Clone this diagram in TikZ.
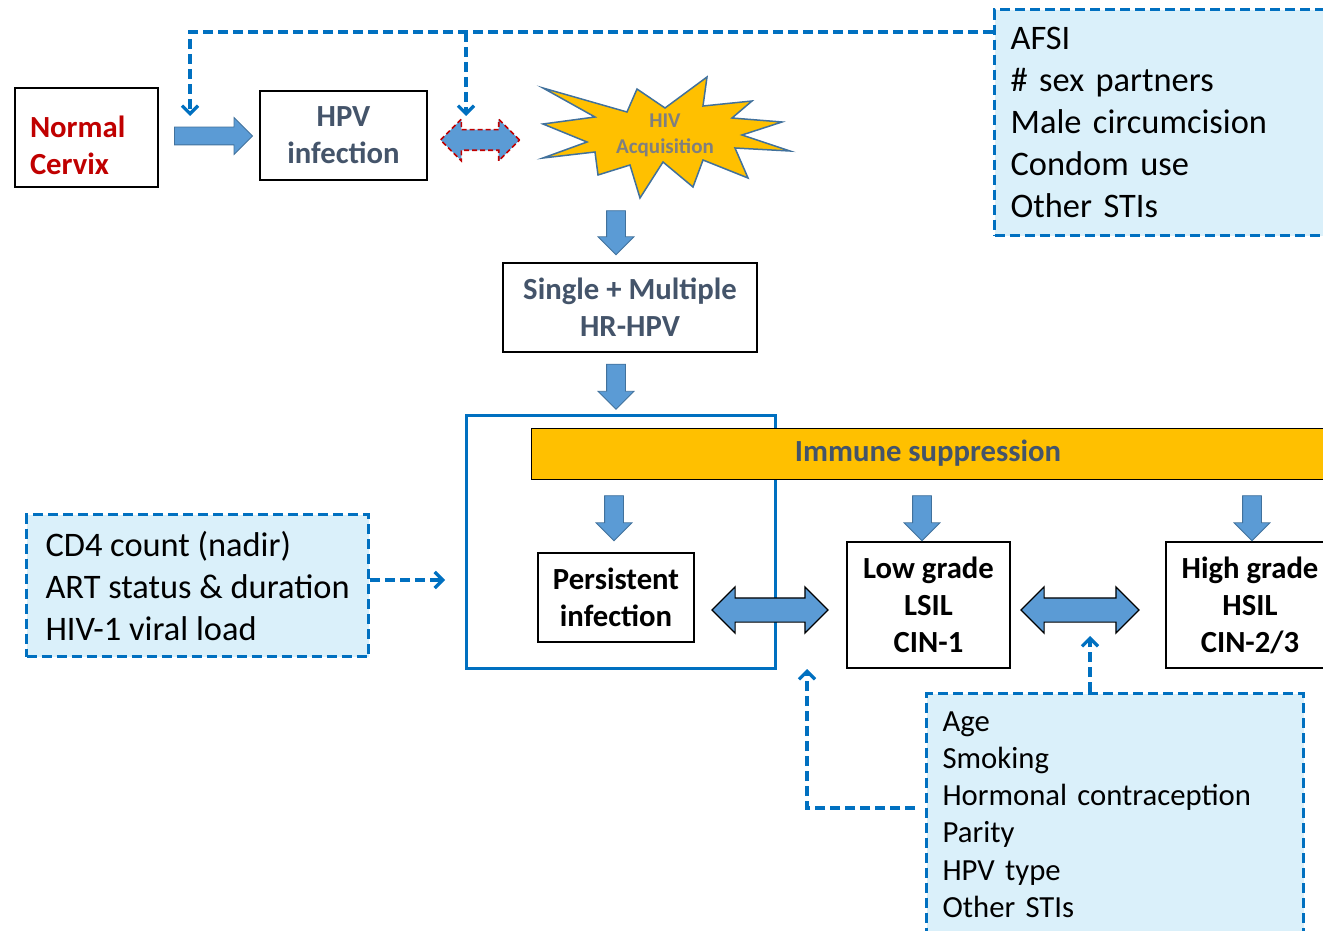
\documentclass[tikz,border=0pt]{standalone}
\usepackage{fontspec}
\setmainfont{Carlito}
\usetikzlibrary{shapes.arrows,arrows.meta}
\definecolor{stagered}{RGB}{192,0,0}
\definecolor{slategrey}{RGB}{68,84,106}
\definecolor{arrowblue}{RGB}{91,155,213}
\definecolor{arrowedge}{RGB}{65,113,156}
\definecolor{linkblue}{RGB}{0,112,192}
\definecolor{riskfill}{RGB}{218,240,250}
\definecolor{hivgold}{RGB}{255,192,0}
\definecolor{hivgrey}{RGB}{127,127,127}

\begin{document}
\begin{tikzpicture}[x=1pt, y=-1pt,
  stagebox/.style={draw=black, line width=1.6pt, fill=white, align=center, inner sep=0pt, font=\bfseries\fontsize{30.7}{37}\selectfont},
  riskbox/.style={draw=linkblue, line width=3.2pt, dash pattern=on 10pt off 5pt, fill=riskfill, align=left, anchor=north west, inner sep=0pt},
  downarrow/.style={single arrow, shape border rotate=270, draw=arrowedge, fill=arrowblue, line width=0.8pt, inner sep=9pt, minimum width=35pt, single arrow head extend=8.5pt, minimum height=44pt},
  twoway/.style={double arrow, draw=black, fill=arrowblue, line width=1.2pt, inner sep=11.5pt, minimum width=45pt, double arrow head extend=11pt, minimum height=117pt},
  link/.style={draw=linkblue, line width=3.2pt, dash pattern=on 10pt off 5pt, -{Straight Barb[length=8pt,width=16pt]}}]
\useasboundingbox (0,0) rectangle (1323,931);
\clip (0,0) rectangle (1323,931);

% HIV window around the immune suppression bar
\node[draw=linkblue, line width=3pt, minimum width=309pt, minimum height=253pt, inner sep=0pt] (host) at (620.5,541.5) {};
\node[draw=black, line width=1pt, fill=hivgold, minimum width=794pt, minimum height=51pt, inner sep=0pt, text=slategrey, font=\bfseries\fontsize{30.7}{37}\selectfont] (immune) at (928,453.5) {Immune suppression};

\node[stagebox, text=stagered, align=left, text width=113pt, inner xsep=15pt, minimum height=99pt] (normal) at (86.5,137.5) {\rule{0pt}{37pt}Normal\\Cervix};
\node[stagebox, text=slategrey, minimum width=167pt, minimum height=89pt] (hpv) at (343.5,135.5) {HPV\\infection};
\node[stagebox, text=slategrey, minimum width=254pt, minimum height=89pt] (hrhpv) at (630,307.5) {Single + Multiple\\HR-HPV};
\node[stagebox, minimum width=156pt, minimum height=89pt] (persist) at (616,597.5) {Persistent\\infection};
\node[stagebox, minimum width=163pt, minimum height=126pt] (lsil) at (928.5,605) {Low grade\\LSIL\\CIN-1};
\node[stagebox, minimum width=168pt, minimum height=126pt] (hsil) at (1250,605) {High grade\\HSIL\\CIN-2/3};

% HIV acquisition burst
\draw[draw=arrowedge, line width=1.5pt, fill=hivgold, line join=miter]
  (543,88) -- (627,112) -- (637,89) -- (665,108) -- (707,77) -- (703,106) -- (752,101) -- (732,118)
  -- (782,122) -- (742,135) -- (790,151) -- (735,148) -- (748,178) -- (703,160) -- (693,187) -- (663,162)
  -- (640,198) -- (630,165) -- (598,175) -- (595,152) -- (543,158) -- (587,142) -- (543,124) -- (595,117) -- cycle;
\node[align=center, text=hivgrey, font=\bfseries\fontsize{21}{26}\selectfont] (hiv) at (665,135.5) {HIV\\Acquisition};

% block arrows
\node[single arrow, draw=arrowedge, fill=arrowblue, line width=0.8pt, inner sep=8.5pt, minimum width=36pt, single arrow head extend=9.5pt, minimum height=78pt] (step1) at (209,136) {};
\node[double arrow, draw=stagered, dash pattern=on 5pt off 3pt, fill=arrowblue, line width=1.6pt, inner sep=9.5pt, minimum width=40pt, double arrow head extend=10.5pt, minimum height=79pt] (step2) at (480,140) {};
\node[downarrow] (step3) at (616,228) {};
\node[downarrow, minimum height=45pt] (step4) at (616,382) {};
\node[downarrow, minimum height=45pt] (step5) at (614,513.5) {};
\node[downarrow, minimum height=45pt] (step6) at (922,513.5) {};
\node[downarrow, minimum height=45pt] (step7) at (1252,513.5) {};
\node[twoway, minimum height=116pt] (step8) at (770,610) {};
\node[twoway, minimum height=118pt] (step9) at (1080,610) {};

% co-factor boxes
\node[riskbox, text width=305pt, inner xsep=16pt, minimum height=226pt, font=\fontsize{34.4}{42}\selectfont] (afsi) at (993,8)
  {AFSI\\\# sex partners\\Male circumcision\\Condom use\\Other STIs};
\node[riskbox, minimum width=342pt, minimum height=142pt, font=\fontsize{34.4}{42}\selectfont] (cd4) at (25,513)
  {CD4 count (nadir)\\ART status \& duration\\HIV-1 viral load};
\node[riskbox, text width=345pt, inner xsep=16pt, minimum height=242pt, font=\fontsize{30.7}{37.2}\selectfont] (cofactors) at (925,692)
  {Age\\Smoking\\Hormonal contraception\\Parity\\HPV type\\Other STIs};

% dashed links
\coordinate (fork) at (466,32);
\coordinate (tipnormal) at (190,116);
\coordinate (tiphiv) at (466,116);
\coordinate (tiphost) at (445,580);
\coordinate (tiplsil) at (807,669);
\coordinate (tipgrade) at (1090,636);
\coordinate (ageleft) at (915,808);
\draw[link] (afsi.west |- fork) -| (tipnormal);
\draw[link] (fork) -- (tiphiv);
\draw[link] (cd4.east |- tiphost) -- (tiphost);
\draw[link] (ageleft) -| (tiplsil);
\draw[link] (cofactors.north -| tipgrade) -- (tipgrade);
\end{tikzpicture}
\end{document}
